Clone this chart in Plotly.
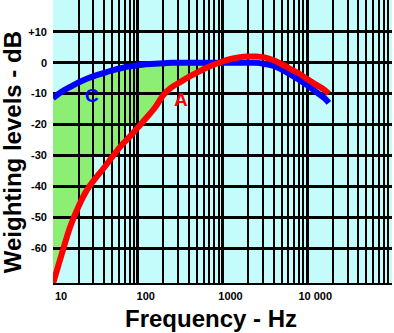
import math
import plotly.graph_objects as go

# Frequencies (Hz)
freq = [10, 12.5, 16, 20, 25, 31.5, 40, 50, 63, 80, 100, 125, 160, 200, 250, 315,
        400, 500, 630, 800, 1000, 1250, 1600, 2000, 2500, 3150, 4000, 5000, 6300,
        8000, 10000, 12500, 16000, 18000]
# A-weighting (dB) as drawn
a_weight = [-71.5, -62.5, -53, -46.5, -41.3, -37.5, -34, -30.5, -27, -24, -21, -18,
            -14.5, -10.5, -8, -6.3, -4.6, -3.2, -1.8, -0.6, 0.4, 1.2, 1.8, 2, 2, 1.7,
            0.8, -0.5, -2, -3.5, -5.3, -7, -8.8, -10]
# C-weighting (dB) as drawn
c_weight = [-11.5, -9.5, -7.8, -6.4, -5.2, -4.2, -3.3, -2.5, -1.8, -1.2, -0.8, -0.5,
            -0.3, -0.2, 0, 0, 0, 0, 0, 0, 0, 0, 0, 0, 0, -0.4, -1.0, -2.2, -3.8, -5.5,
            -7.3, -9.3, -11.5, -13]

y_ticks = [10, 0, -10, -20, -30, -40, -50, -60]
y_tick_text = ["+10", "0", "-10", "-20", "-30", "-40", "-50", "-60"]
x_ticks = [10, 100, 1000, 10000]
x_tick_text = ["10", "100", "1000", "10 000"]

# Green shading: hand-coloured grid cells between the curves
# (band top dB, band bottom dB, right-hand frequency limit Hz)
fill_bands = [(5, -10, 600), (-10, -20, 200), (-20, -30, 70), (-30, -40, 30),
              (-40, -75, 1000)]


def interp(fx, xs, ys):
    lx = math.log10(fx)
    for i in range(len(xs) - 1):
        l0, l1 = math.log10(xs[i]), math.log10(xs[i + 1])
        if l0 <= lx <= l1:
            t = (lx - l0) / (l1 - l0)
            return ys[i] + t * (ys[i + 1] - ys[i])
    return ys[-1]


def band_path(hi, lo, fmax):
    fs = [f for f in freq if f < fmax] + [fmax]
    up, dn = [], []
    for f in fs:
        u = min(interp(f, freq, c_weight), hi)
        d = max(interp(f, freq, a_weight), lo)
        if d > u:
            d = u
        up.append(u)
        dn.append(d)
    pts = list(zip(fs, up)) + list(zip(fs[::-1], dn[::-1]))
    return "M " + " L ".join(f"{x:.4f},{y:.3f}" for x, y in pts) + " Z"


FONT = "Liberation Sans, Arial, sans-serif"

fig = go.Figure()
for hi, lo, fmax in fill_bands:
    fig.add_shape(type="path", path=band_path(hi, lo, fmax), xref="x", yref="y",
                  fillcolor="#8CEE72", line=dict(width=0), layer="below")

fig.add_trace(go.Scatter(x=freq, y=c_weight, mode="lines",
                         line=dict(color="#0000FF", width=6, shape="spline"),
                         showlegend=False))
fig.add_trace(go.Scatter(x=freq, y=a_weight, mode="lines",
                         line=dict(color="#FF0000", width=6, shape="spline"),
                         showlegend=False))

# curve labels
label_c = (28.7, -10.5)
label_a = (320, -12.0)
fig.add_annotation(x=math.log10(label_c[0]), y=label_c[1], text="<b>C</b>",
                   showarrow=False, font=dict(family=FONT, size=19, color="#0000FF"))
fig.add_annotation(x=math.log10(label_a[0]), y=label_a[1], text="<b>A</b>",
                   showarrow=False, font=dict(family=FONT, size=19, color="#FF0000"))

# axis titles
fig.add_annotation(text="<b>Frequency - Hz</b>", xref="paper", yref="paper",
                   x=0.467, y=0, yshift=-35, xanchor="center", yanchor="middle",
                   showarrow=False, font=dict(family=FONT, size=24, color="black"))
fig.add_annotation(text="<b>Weighting levels - dB</b>", xref="paper", yref="paper",
                   x=0, xshift=-41, y=0.462, xanchor="center", yanchor="middle",
                   textangle=-90, showarrow=False,
                   font=dict(family=FONT, size=24, color="black"))

fig.update_layout(
    width=394, height=333,
    margin=dict(l=53, r=2, t=0, b=50),
    paper_bgcolor="white",
    plot_bgcolor="#C4FCFC",
    font=dict(family=FONT, color="black"),
)
fig.update_xaxes(
    type="log", range=[1, 5],
    tickvals=x_ticks, ticktext=x_tick_text,
    tickfont=dict(family=FONT, size=11, color="black", weight="bold"),
    ticklabelshift=8, ticklabelstandoff=2,
    showgrid=True, gridcolor="black", gridwidth=2.5,
    minor=dict(dtick="D1", showgrid=True, gridcolor="black", gridwidth=2, ticks=""),
    showline=True, linecolor="black", linewidth=2,
    zeroline=False, ticks="",
)
fig.update_yaxes(
    range=[-71.3, 20.3],
    tickvals=y_ticks, ticktext=y_tick_text,
    tickfont=dict(family=FONT, size=11, color="black", weight="bold"),
    ticklabelstandoff=5,
    showgrid=True, gridcolor="black", gridwidth=3,
    zeroline=False, ticks="", showline=False,
)

fig.write_html("out.html")
